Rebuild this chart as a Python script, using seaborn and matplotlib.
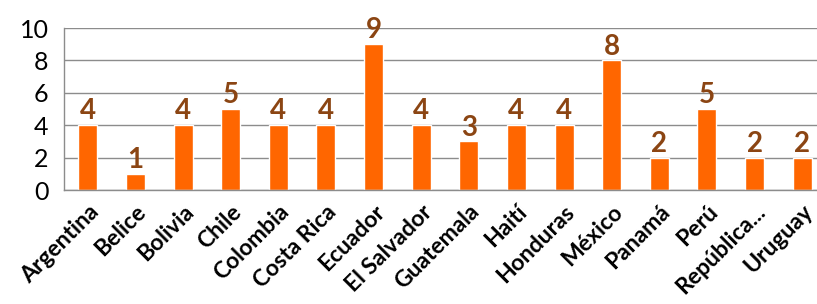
import numpy as np
import pandas as pd
import seaborn as sns
import matplotlib.pyplot as plt

paises = ["Argentina", "Belice", "Bolivia", "Chile", "Colombia", "Costa Rica",
          "Ecuador", "El Salvador", "Guatemala", "Haití", "Honduras", "México",
          "Panamá", "Perú", "República...", "Uruguay"]
valores = [4, 1, 4, 5, 4, 4, 9, 4, 3, 4, 4, 8, 2, 5, 2, 2]

df = pd.DataFrame({"Pais": paises, "Valor": valores})

sns.set_style("white")
plt.rcParams["font.family"] = ["Lato", "DejaVu Sans"]

fig = plt.figure(figsize=(8.17, 3.04), dpi=100)
ax = fig.add_axes([64 / 817, 114 / 304, 762 / 817, 162 / 304])

sns.barplot(data=df, x="Pais", y="Valor", color="#FF6600", width=0.4,
            saturation=1, ax=ax)

ax.set_ylim(0, 10)
ax.set_xlim(-0.5, len(paises) - 0.5)
ax.set_yticks(range(0, 11, 2))
ax.yaxis.grid(True, color="#8c8c8c", linewidth=1)
ax.set_axisbelow(True)
ax.set_xlabel("")
ax.set_ylabel("")

for s in ["top", "right"]:
    ax.spines[s].set_visible(False)
for s in ["left", "bottom"]:
    ax.spines[s].set_color("#8c8c8c")
    ax.spines[s].set_linewidth(1)

# category boundary ticks
ax.set_xticks(np.arange(-0.5, len(paises), 1), minor=True)
ax.tick_params(axis="x", which="minor", length=7, color="#8c8c8c", direction="out")
ax.tick_params(axis="x", which="major", length=0, pad=8, labelcolor="black")
ax.tick_params(axis="y", length=7, color="#8c8c8c", direction="out",
               labelsize=18, pad=4, labelcolor="black")

ax.set_xticks(range(len(paises)))
ax.set_xticklabels(paises, rotation=45, ha="right", rotation_mode="anchor",
                   fontsize=16.5, fontweight="bold")

for i, v in enumerate(valores):
    ax.text(i, v + 0.05, str(v), ha="center", va="bottom", fontsize=20,
            fontweight="bold", color="#8B4513")

fig.savefig("out.png", dpi=100)
